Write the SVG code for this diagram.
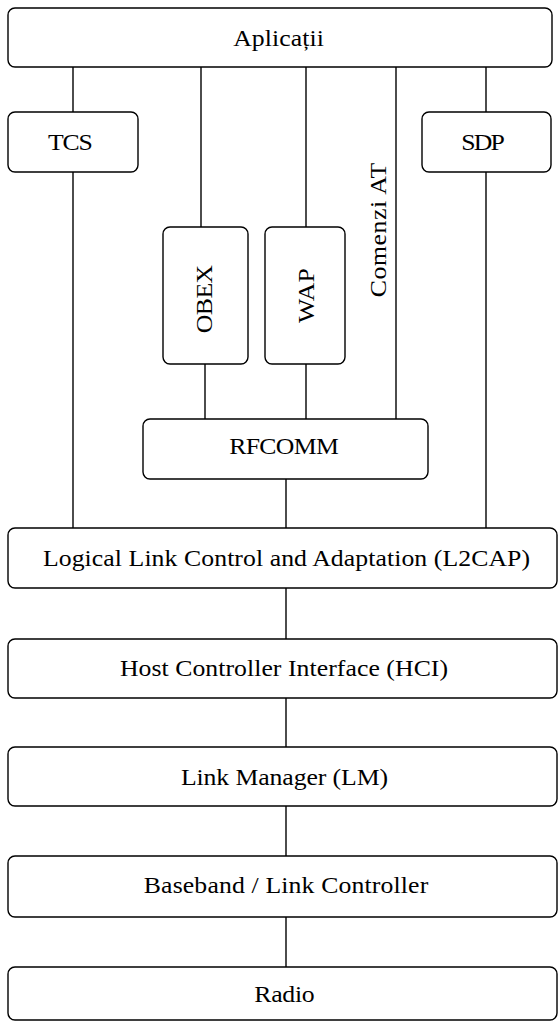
<svg xmlns="http://www.w3.org/2000/svg" width="558" height="1023" viewBox="0 0 558 1023">
<style>
rect{fill:#fff;stroke:#000;stroke-width:1.4}
line{stroke:#000;stroke-width:1.4}
text{fill:#000;text-anchor:middle}
</style>
<rect x="0" y="0" width="558" height="1023" style="stroke:none"/>
<g id="connectors">
<line x1="73" y1="67" x2="73" y2="112"/>
<line x1="73" y1="172" x2="73" y2="528"/>
<line x1="201" y1="67" x2="201" y2="227"/>
<line x1="205" y1="364" x2="205" y2="419"/>
<line x1="306" y1="67" x2="306" y2="227"/>
<line x1="306" y1="364" x2="306" y2="419"/>
<line x1="396" y1="67" x2="396" y2="419"/>
<line x1="486" y1="67" x2="486" y2="112"/>
<line x1="486" y1="172" x2="486" y2="528"/>
<line x1="286" y1="479" x2="286" y2="528"/>
<line x1="286" y1="588" x2="286" y2="639"/>
<line x1="286" y1="698" x2="286" y2="747"/>
<line x1="286" y1="806" x2="286" y2="856"/>
<line x1="286" y1="917" x2="286" y2="967"/>
</g>
<g font-family="Liberation Serif" font-size="23">
<g id="aplicatii"><rect x="8" y="8" width="544" height="59" rx="7"/><text transform="translate(278.5,46) scale(1.12,1)" textLength="81" lengthAdjust="spacing">Aplicații</text></g>
<g id="tcs"><rect x="8" y="112" width="130" height="60" rx="7"/><text transform="translate(70.5,149.5) scale(1.12,1)" textLength="40" lengthAdjust="spacing">TCS</text></g>
<g id="sdp"><rect x="422" y="112" width="129" height="60" rx="7"/><text transform="translate(483,149.5) scale(1.12,1)" textLength="39" lengthAdjust="spacing">SDP</text></g>
<g id="obex"><rect x="163" y="227" width="85" height="137" rx="7"/><text transform="translate(212,299) rotate(-90) scale(1.12,1)" textLength="61" lengthAdjust="spacing">OBEX</text></g>
<g id="wap"><rect x="265" y="227" width="80" height="137" rx="7"/><text transform="translate(314,295.5) rotate(-90) scale(1.12,1)" textLength="49" lengthAdjust="spacing">WAP</text></g>
<g id="comenzi"><text transform="translate(386,230) rotate(-90) scale(1.12,1)" textLength="120" lengthAdjust="spacing">Comenzi AT</text></g>
<g id="rfcomm"><rect x="143" y="419" width="285" height="60" rx="7"/><text transform="translate(284,454) scale(1.12,1)" textLength="98" lengthAdjust="spacing">RFCOMM</text></g>
<g id="l2cap"><rect x="8" y="528" width="549" height="60" rx="7"/><text transform="translate(286.5,566) scale(1.12,1)" textLength="435" lengthAdjust="spacing">Logical Link Control and Adaptation (L2CAP)</text></g>
<g id="hci"><rect x="8" y="639" width="549" height="59" rx="7"/><text transform="translate(284,675.5) scale(1.12,1)" textLength="293" lengthAdjust="spacing">Host Controller Interface (HCI)</text></g>
<g id="lm"><rect x="8" y="747" width="549" height="59" rx="7"/><text transform="translate(284.5,785) scale(1.12,1)" textLength="185" lengthAdjust="spacing">Link Manager (LM)</text></g>
<g id="baseband"><rect x="8" y="856" width="549" height="61" rx="7"/><text transform="translate(286,893) scale(1.12,1)" textLength="254" lengthAdjust="spacing">Baseband / Link Controller</text></g>
<g id="radio"><rect x="8" y="967" width="549" height="53" rx="7"/><text transform="translate(284.5,1001.5) scale(1.12,1)" textLength="54" lengthAdjust="spacing">Radio</text></g>
</g>
</svg>
